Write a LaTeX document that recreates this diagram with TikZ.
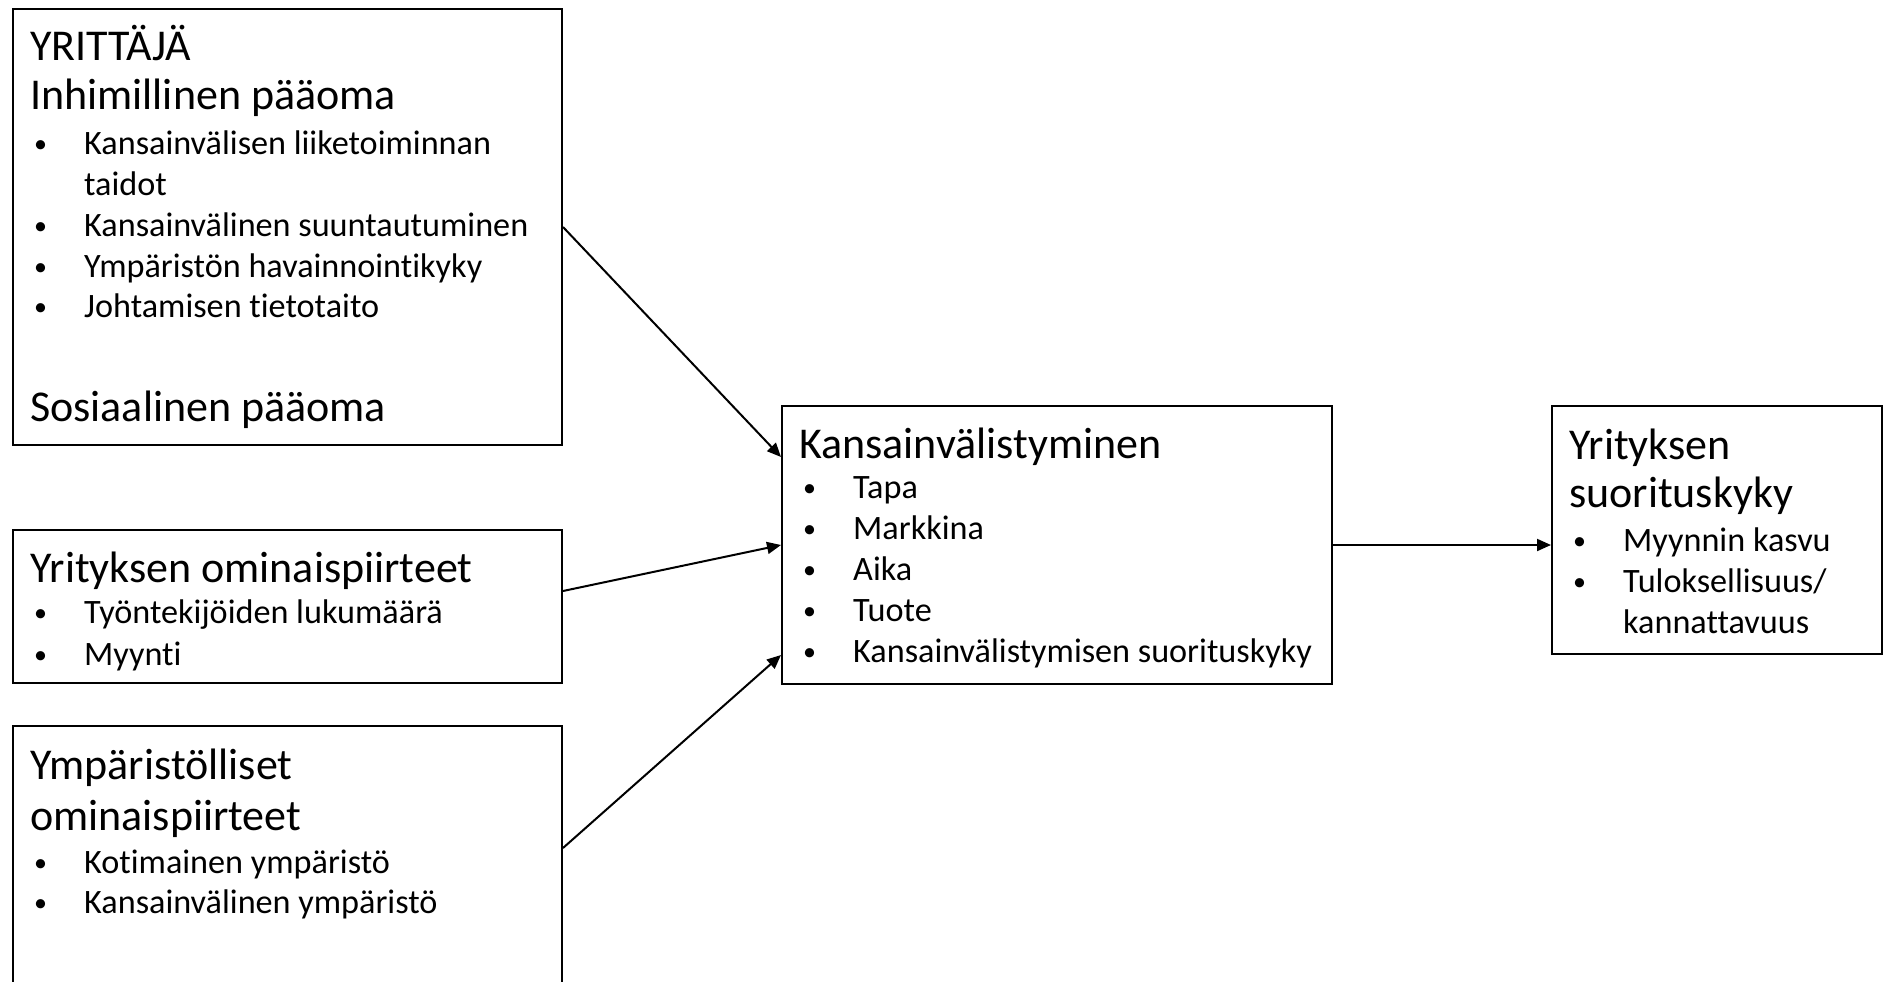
\documentclass[tikz,border=0pt]{standalone}
\usepackage{fontspec}
\setmainfont{Carlito}[Ligatures=NoCommon]
\usetikzlibrary{arrows.meta}
\tikzset{
  box/.style={draw=black, line width=2pt, rectangle, inner sep=0pt, anchor=north west},
  ttl/.style={anchor=base west, inner sep=0pt, font=\fontsize{44}{48}\selectfont},
  itm/.style={anchor=base west, inner sep=0pt, font=\fontsize{34.2}{41}\selectfont},
  bulstyle/.style={anchor=base west, inner sep=0pt, font=\fontsize{26}{30}\selectfont},
  conn/.style={line width=2pt, -{Triangle[length=14pt,width=12pt]}}
}
\newcommand{\bul}[4]{% name, x(box left), y baseline, text
  \node[bulstyle] (#1b) at (#2+22,#3) {\raisebox{2pt}{•}};
  \node[itm] (#1) at (#2+72,#3) {#4};}
\begin{document}
\begin{tikzpicture}[x=1pt,y=-1pt]
\useasboundingbox (0,0) rectangle (1883,982);
\clip (0,0) rectangle (1883,982);
% boxes
\node[box, minimum width=549pt, minimum height=436pt] (b1) at (12,8) {};
\node[box, minimum width=549pt, minimum height=153pt] (b2) at (12,529) {};
\node[box, minimum width=549pt, minimum height=300pt] (b3) at (12,725) {};
\node[box, minimum width=550pt, minimum height=278pt] (c) at (781,405) {};
\node[box, minimum width=330pt, minimum height=248pt] (r) at (1551,405) {};
% box 1 text
\node[ttl] (t1a) at (30,61) {YRITTÄJÄ};
\node[ttl] (t1b) at (30,110) {Inhimillinen pääoma};
\bul{i1}{12}{154}{Kansainvälisen liiketoiminnan}
\node[itm] (i1x) at (84,195) {taidot};
\bul{i2}{12}{236}{Kansainvälinen suuntautuminen}
\bul{i3}{12}{277}{Ympäristön havainnointikyky}
\bul{i4}{12}{317}{Johtamisen tietotaito}
\node[ttl] (t1c) at (30,421) {Sosiaalinen pääoma};
% box 2 text
\node[ttl] (t2) at (30,582) {Yrityksen ominaispiirteet};
\bul{j1}{12}{623}{Työntekijöiden lukumäärä}
\bul{j2}{12}{665}{Myynti}
% box 3 text
\node[ttl] (t3a) at (30,779) {Ympäristölliset};
\node[ttl] (t3b) at (30,830) {ominaispiirteet};
\bul{k1}{12}{873}{Kotimainen ympäristö}
\bul{k2}{12}{913}{Kansainvälinen ympäristö}
% centre box text
\node[ttl] (tc) at (799,458) {Kansainvälistyminen};
\bul{m1}{781}{498}{Tapa}
\bul{m2}{781}{539}{Markkina}
\bul{m3}{781}{580}{Aika}
\bul{m4}{781}{621}{Tuote}
\bul{m5}{781}{662}{Kansainvälistymisen suorituskyky}
% right box text
\node[ttl] (tra) at (1569,459) {Yrityksen};
\node[ttl] (trb) at (1569,507) {suorituskyky};
\bul{n1}{1551}{551}{Myynnin kasvu}
\bul{n2}{1551}{592}{Tuloksellisuus/}
\node[itm] (n2x) at (1623,633) {kannattavuus};
% connectors
\draw[conn] (b1.east) -- ([yshift=-52pt]c.north west);
\draw[conn] ([yshift=-62pt]b2.north east) -- (c.west);
\draw[conn] ([yshift=-123pt]b3.north east) -- ([yshift=30pt]c.south west);
\draw[conn] (c.east) -- (c.east -| r.west);
\end{tikzpicture}
\end{document}
